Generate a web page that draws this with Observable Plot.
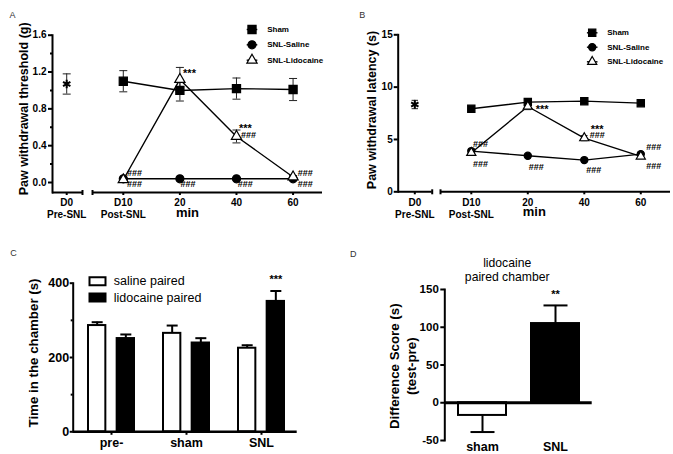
<!DOCTYPE html>
<html><head><meta charset="utf-8">
<script src="https://cdn.jsdelivr.net/npm/d3@7"></script>
<script src="https://cdn.jsdelivr.net/npm/@observablehq/plot@0.6"></script>
<style>
html,body{margin:0;padding:0;background:#fff;}
#fig{position:relative;width:673px;height:454px;overflow:hidden;}
.panel{position:absolute;}
</style></head><body><div id="fig"></div>
<script>
// ---------- shared categories ----------
const timeTicks = [0, 1, 2, 3, 4];
const timeLabels = ["D0\nPre-SNL", "D10\nPost-SNL", "20", "40", "60"];
const postTimes = [1, 2, 3, 4];
const seriesNames = ["Sham", "SNL-Saline", "SNL-Lidocaine"];

// ---------- Panel A: paw withdrawal threshold (g) ----------
const aPre = 1.07, aPreErr = 0.11;
const aSham = [1.10, 1.00, 1.02, 1.01];
const aShamErr = [0.115, 0.115, 0.115, 0.12];
const aSaline = [0.04, 0.04, 0.04, 0.04];
const aSalineErr = [0.01, 0.01, 0.01, 0.01];
const aLido = [0.03, 1.12, 0.50, 0.06];
const aLidoErr = [0.01, 0.13, 0.07, 0.015];
const aYTicks = [0, 0.4, 0.8, 1.2, 1.6];
const aYMinor = [0.2, 0.6, 1.0, 1.4];
const aNotes = [[2.17, 1.179, "***"], [3.159, 0.584, "***"], [3.212, 0.514, "###"],
  [1.198, 0.105, "###"], [1.198, -0.018, "###"], [2.143, -0.018, "###"],
  [3.155, -0.018, "###"], [4.214, 0.105, "###"], [4.214, -0.018, "###"]];

// ---------- Panel B: paw withdrawal latency (s) ----------
const bPre = 8.34, bPreErr = 0.4;
const bSham = [7.93, 8.57, 8.66, 8.47];
const bShamErr = [0.2, 0.2, 0.25, 0.2];
const bSaline = [3.89, 3.44, 3.03, 3.60];
const bSalineErr = [0.2, 0.15, 0.15, 0.2];
const bLido = [3.73, 8.15, 5.13, 3.38];
const bLidoErr = [0.2, 0.3, 0.25, 0.15];
const bYTicks = [0, 5, 10, 15];
const bNotes = [[2.255, 7.91, "***"], [3.228, 6.0, "***"], [3.228, 5.45, "###"],
  [1.163, 4.52, "###"], [1.163, 2.61, "###"], [2.149, 2.35, "###"],
  [3.168, 2.03, "###"], [4.23, 4.23, "###"], [4.23, 2.45, "###"]];

// ---------- Panel C: time in chamber (s) ----------
const cGroups = ["pre-", "sham", "SNL"];
const cSaline = [286, 265, 225];
const cSalineErr = [9, 21, 8];
const cLido = [251, 239, 351];
const cLidoErr = [11, 13, 28];
const cYTicks = [0, 200, 400];
const cYMinor = [100, 300];
const cLegend = ["saline paired", "lidocaine paired"];

// ---------- Panel D: difference score ----------
const dGroups = ["sham", "SNL"];
const dValues = [-16.8, 104.9];
const dErr = [22, 24];
const dYTicks = [-50, 0, 50, 100, 150];

// ---------- helpers ----------
const FONT = "'Liberation Sans', Arial, Helvetica, sans-serif";
function lineSym(dir) {
  return {draw(ctx, size) {
    const r = Math.sqrt(size / Math.PI);
    if (dir === "h") { ctx.moveTo(-r, 0); ctx.lineTo(r, 0); }
    else { ctx.moveTo(0, -r); ctx.lineTo(0, r); }
  }};
}
const hLine = lineSym("h"), vLine = lineSym("v");
function rectSym(aspect) {
  return {draw(ctx, size) {
    const r = Math.sqrt(size / Math.PI);
    ctx.rect(-aspect * r, -r, 2 * aspect * r, 2 * r);
  }};
}
const baseStyle = {fontFamily: FONT, fontSize: "10px", fontWeight: "bold", color: "black", background: "white", overflow: "visible"};
const mid = {textAnchor: "middle", lineAnchor: "middle"};

function place(svg, left, top, w, h) {
  const div = document.createElement("div");
  div.className = "panel";
  div.style.left = left + "px"; div.style.top = top + "px";
  div.style.width = w + "px"; div.style.height = h + "px";
  div.appendChild(svg);
  document.getElementById("fig").appendChild(div);
}

function timePanel(c) {
  const series = [[c.sham, c.shamErr], [c.saline, c.salineErr], [c.lido, c.lidoErr]];
  const rows = [];
  series.forEach(([vals, errs], k) => vals.forEach((v, i) =>
    rows.push({name: seriesNames[k], t: postTimes[i], v, e: errs[i]})));
  const preRow = [{t: 0, v: c.pre, e: c.preErr}];
  const y0 = c.yDomain[0];
  const symbols = ["square", "circle", "triangle"];
  const fills = ["black", "black", "white"];
  const legendMarks = seriesNames.flatMap((name, k) => [
    Plot.dot([name], {frameAnchor: "top-left", dx: c.legDx, dy: c.legDy[k], symbol: hLine, r: 5.3, stroke: "black", strokeWidth: 1.4, fill: "none"}),
    Plot.dot([name], {frameAnchor: "top-left", dx: c.legDx, dy: c.legDy[k], symbol: symbols[k], r: c.mr[k], fill: fills[k], stroke: "black", strokeWidth: 1.2}),
    Plot.text([name], {frameAnchor: "top-left", dx: c.legTextDx, dy: c.legDy[k], text: d => d, textAnchor: "start", lineAnchor: "middle", fontSize: 8, fontWeight: "bold"})
  ]);
  return Plot.plot({
    width: c.width, height: c.height,
    marginLeft: c.m[0], marginRight: c.m[1], marginTop: c.m[2], marginBottom: c.m[3],
    x: {domain: c.xDomain},
    y: {domain: c.yDomain},
    style: baseStyle,
    marks: [
      Plot.frame({anchor: "left", strokeWidth: 2}),
      Plot.ruleY(c.segments, {y: () => y0, x1: d => d[0], x2: d => d[1], strokeWidth: 2}),
      Plot.dot([c.segments[0][1], c.segments[1][0]], {x: d => d, y: () => y0, symbol: vLine, r: 2.5, stroke: "black", strokeWidth: 2, fill: "none"}),
      Plot.axisY({ticks: c.yTicks, tickFormat: c.yFmt, tickSize: 4, tickPadding: c.yPad, strokeWidth: 2, fontSize: 10, fontWeight: "bold", label: null}),
      ...(c.yMinor ? [Plot.axisY({ticks: c.yMinor, tickSize: 2, strokeWidth: 2, text: null, label: null})] : []),
      Plot.axisX({ticks: timeTicks, tickFormat: i => timeLabels[i], tickSize: 3, tickPadding: c.xPad, strokeWidth: 2, fontSize: 10, fontWeight: "bold", lineHeight: 1.17, label: null}),
      // error bars
      Plot.ruleX(rows, {x: "t", y1: d => d.v - d.e, y2: d => d.v + d.e, strokeWidth: 1, stroke: "#222"}),
      Plot.dot(rows, {x: "t", y: d => d.v + d.e, symbol: hLine, r: c.capR, stroke: "#222", strokeWidth: 1, fill: "none"}),
      Plot.dot(rows, {x: "t", y: d => d.v - d.e, symbol: hLine, r: c.capR, stroke: "#222", strokeWidth: 1, fill: "none"}),
      Plot.ruleX(preRow, {x: "t", y1: d => d.v - d.e, y2: d => d.v + d.e, strokeWidth: 1, stroke: "#222"}),
      Plot.dot(preRow, {x: "t", y: d => d.v + d.e, symbol: hLine, r: c.capR, stroke: "#222", strokeWidth: 1, fill: "none"}),
      Plot.dot(preRow, {x: "t", y: d => d.v - d.e, symbol: hLine, r: c.capR, stroke: "#222", strokeWidth: 1, fill: "none"}),
      Plot.dot(preRow, {x: "t", y: "v", symbol: "asterisk", r: 4, stroke: "black", strokeWidth: 2}),
      // lines
      Plot.line(rows, {x: "t", y: "v", z: "name", stroke: "black", strokeWidth: 1.4}),
      // markers
      ...seriesNames.map((name, k) => Plot.dot(rows.filter(d => d.name === name),
        {x: "t", y: "v", symbol: symbols[k], r: c.mr[k], fill: fills[k], stroke: "black", strokeWidth: 1.2})),
      // annotations
      Plot.text(c.notes.filter(d => d[2] === "###"), {x: d => d[0], y: d => d[1], text: d => d[2], fontSize: 9, fontWeight: "bold"}),
      Plot.text(c.notes.filter(d => d[2] === "***"), {x: d => d[0], y: d => d[1], text: d => d[2], fontSize: 11, fontWeight: "bold"}),
      ...legendMarks,
      Plot.text([c.ylabel], {frameAnchor: "left", rotate: -90, dx: c.ylDx, dy: c.ylDy, text: d => d, ...mid, fontSize: 12.5, fontWeight: "bold"}),
      Plot.text(["min"], {frameAnchor: "bottom", dy: c.minDy, text: d => d, ...mid, fontSize: 13, fontWeight: "bold"}),
      Plot.text([c.letter], {frameAnchor: "top-left", dx: c.letDx, dy: c.letDy, text: d => d, ...mid, fontSize: 9, fontWeight: "normal", fill: "#333"})
    ]
  });
}

// ---------- Panel A ----------
place(timePanel({
  width: 330, height: 230, m: [52, 8, 34.7, 38],
  xDomain: [-0.251, 4.52], yDomain: [-0.1086, 1.6],
  segments: [[-0.251, 0.279], [0.456, 4.52]],
  pre: aPre, preErr: aPreErr, sham: aSham, shamErr: aShamErr, saline: aSaline, salineErr: aSalineErr, lido: aLido, lidoErr: aLidoErr,
  yTicks: aYTicks, yMinor: aYMinor, yFmt: d => d.toFixed(1), yPad: 2, xPad: 2.4,
  notes: aNotes, capR: 4, mr: [4.6, 4, 3.8],
  legDx: 199.5, legTextDx: 214.7, legDy: [-5.7, 9.6, 25],
  ylabel: "Paw withdrawal threshold (g)", ylDx: -29, ylDy: -5, minDy: 20,
  letter: "A", letDx: -40, letDy: -19.7
}), 0, 0, 330, 230);

// ---------- Panel B ----------
place(timePanel({
  width: 343, height: 230, m: [67.7, 3, 34.3, 38.7],
  xDomain: [-0.294, 4.526], yDomain: [0, 15],
  segments: [[-0.294, 0.308], [0.455, 4.526]],
  pre: bPre, preErr: bPreErr, sham: bSham, shamErr: bShamErr, saline: bSaline, salineErr: bSalineErr, lido: bLido, lidoErr: bLidoErr,
  yTicks: bYTicks, yMinor: null, yFmt: d => String(d), yPad: 1.5, xPad: 3,
  notes: bNotes, capR: 3.2, mr: [4.1, 3.6, 3.4],
  legDx: 194, legTextDx: 209, legDy: [-2, 12.4, 27],
  ylabel: "Paw withdrawal latency (s)", ylDx: -26, ylDy: -3.3, minDy: 20.4,
  letter: "B", letDx: -36, letDy: -19.3
}), 330, 0, 343, 230);

// ---------- Panel C ----------
const cRows = cGroups.map((g, i) => ({g, s: cSaline[i], se: cSalineErr[i], l: cLido[i], le: cLidoErr[i]}));
place(Plot.plot({
  width: 330, height: 224, marginLeft: 72.7, marginRight: 33.3, marginTop: 52.7, marginBottom: 22.7,
  x: {type: "band", domain: cGroups, paddingInner: 0.36, paddingOuter: 0.1685, align: 0.569},
  y: {domain: [0, 400]},
  style: baseStyle,
  marks: [
    Plot.frame({anchor: "left", strokeWidth: 2}),
    Plot.axisY({ticks: cYTicks, tickFormat: d => String(d), tickSize: 3, tickPadding: 1, strokeWidth: 2, fontSize: 12.5, fontWeight: "bold", label: null}),
    Plot.axisY({ticks: cYMinor, tickSize: 2, strokeWidth: 2, text: null, label: null}),
    Plot.axisX({tickSize: 3.5, tickPadding: 3, strokeWidth: 2, fontSize: 12.5, fontWeight: "bold", label: null}),
    Plot.ruleX(cRows, {x: "g", y1: "s", y2: d => d.s + d.se, dx: -14.33, strokeWidth: 2}),
    Plot.dot(cRows, {x: "g", y: d => d.s + d.se, dx: -14.33, symbol: hLine, r: 5.5, stroke: "black", strokeWidth: 2, fill: "none"}),
    Plot.ruleX(cRows, {x: "g", y1: "l", y2: d => d.l + d.le, dx: 14.33, strokeWidth: 2}),
    Plot.dot(cRows, {x: "g", y: d => d.l + d.le, dx: 14.33, symbol: hLine, r: 5.5, stroke: "black", strokeWidth: 2, fill: "none"}),
    Plot.barY(cRows, {x: "g", y: "s", insetLeft: 1, insetRight: 29.66, fill: "white", stroke: "black", strokeWidth: 2}),
    Plot.barY(cRows, {x: "g", y: "l", insetLeft: 29.66, insetRight: 1, fill: "black", stroke: "black", strokeWidth: 2}),
    Plot.ruleY([0], {strokeWidth: 2.5}),
    Plot.text(["***"], {x: () => "SNL", y: () => 411, dx: 14.33, text: d => d, fontSize: 11, fontWeight: "bold"}),
    // legend
    Plot.dot([cLegend[0]], {frameAnchor: "top-left", dx: 24.3, dy: -2, symbol: rectSym(2), r: 4, fill: "white", stroke: "black", strokeWidth: 2}),
    Plot.dot([cLegend[1]], {frameAnchor: "top-left", dx: 24.3, dy: 14.3, symbol: rectSym(2), r: 4, fill: "black", stroke: "black", strokeWidth: 2}),
    Plot.text([cLegend[0]], {frameAnchor: "top-left", dx: 40.6, dy: -2.7, text: d => d, textAnchor: "start", lineAnchor: "middle", fontSize: 12.5, fontWeight: "normal"}),
    Plot.text([cLegend[1]], {frameAnchor: "top-left", dx: 40.6, dy: 14.3, text: d => d, textAnchor: "start", lineAnchor: "middle", fontSize: 12.5, fontWeight: "normal"}),
    Plot.text(["Time in the chamber (s)"], {frameAnchor: "left", rotate: -90, dx: -39.4, dy: -4.5, text: d => d, ...mid, fontSize: 13.3, fontWeight: "bold"}),
    Plot.text(["C"], {frameAnchor: "top-left", dx: -59.7, dy: -30, text: d => d, ...mid, fontSize: 9, fontWeight: "normal", fill: "#333"})
  ]
}), 0, 230, 330, 224);

// ---------- Panel D ----------
const dRows = dGroups.map((g, i) => ({g, v: dValues[i], e: dErr[i]}));
place(Plot.plot({
  width: 343, height: 224, marginLeft: 114.3, marginRight: 81.3, marginTop: 59, marginBottom: 14,
  x: {type: "band", domain: dGroups, paddingInner: 0.319, paddingOuter: 0.1635, align: 0.5},
  y: {domain: [-50, 150]},
  style: baseStyle,
  marks: [
    Plot.frame({anchor: "left", strokeWidth: 2}),
    Plot.axisY({ticks: dYTicks, tickFormat: d => String(d), tickSize: 4, tickPadding: 2, strokeWidth: 2, fontSize: 11.5, fontWeight: "bold", label: null}),
    Plot.axisX({tickSize: 0, tickPadding: 2, fontSize: 12.5, fontWeight: "bold", label: null}),
    Plot.ruleX(dRows, {x: "g", y1: "v", y2: d => d.v + Math.sign(d.v) * d.e, strokeWidth: 2}),
    Plot.dot(dRows, {x: "g", y: d => d.v + Math.sign(d.v) * d.e, symbol: hLine, r: 12, stroke: "black", strokeWidth: 2, fill: "none"}),
    Plot.barY(dRows.filter(d => d.g === "sham"), {x: "g", y: "v", insetLeft: 1, insetRight: 1, fill: "white", stroke: "black", strokeWidth: 2}),
    Plot.barY(dRows.filter(d => d.g === "SNL"), {x: "g", y: "v", insetLeft: 1, insetRight: 1, fill: "black", stroke: "black", strokeWidth: 2}),
    Plot.ruleY([0], {strokeWidth: 2.8}),
    Plot.text(["**"], {x: () => "SNL", y: () => 143, text: d => d, fontSize: 11, fontWeight: "bold"}),
    Plot.text(["lidocaine\npaired chamber"], {frameAnchor: "top-left", dx: 62.4, dy: -20.3, text: d => d, ...mid, fontSize: 12.2, fontWeight: "normal", lineHeight: 1.15}),
    Plot.text(["Difference Score (s)\n(test-pre)"], {frameAnchor: "left", rotate: -90, dx: -42.6, dy: 1.2, text: d => d, ...mid, fontSize: 13.3, fontWeight: "bold", lineHeight: 1.25}),
    Plot.text(["D"], {frameAnchor: "top-left", dx: -91.6, dy: -35.7, text: d => d, ...mid, fontSize: 9, fontWeight: "normal", fill: "#333"})
  ]
}), 330, 230, 343, 224);
</script></body></html>
